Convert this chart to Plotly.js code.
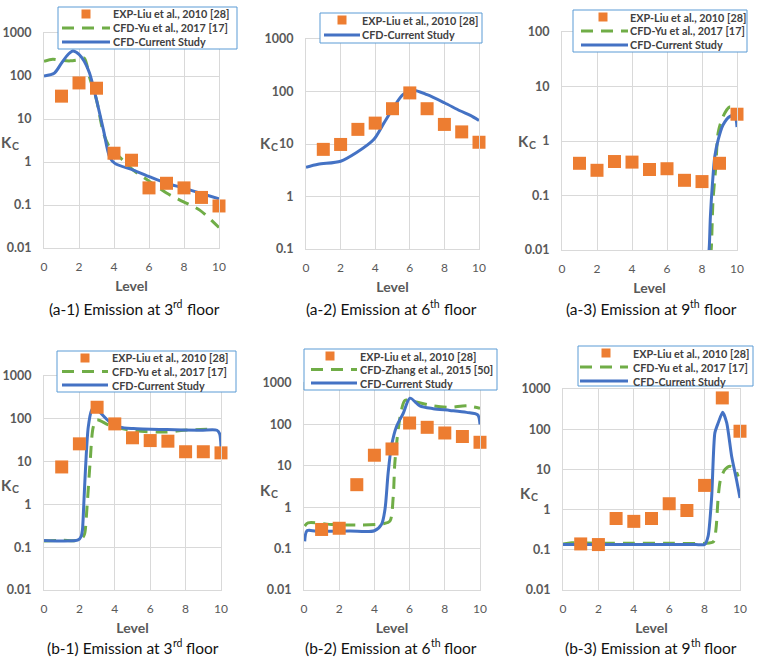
<!DOCTYPE html>
<html><head><meta charset="utf-8">
<script src="https://cdn.plot.ly/plotly-3.0.1.min.js"></script>
<style>html,body{margin:0;padding:0;background:#fff}#chart{width:760px;height:669px}</style>
</head><body><div id="chart"></div><script>
// ---------- DATA ----------
const levels = [1,2,3,4,5,6,7,8,9,10];
const yTickVals = [0.01,0.1,1,10,100,1000];
const yTickText = ['0.01','0.1','1','10','100','1000'];
const xTickVals = [0,2,4,6,8,10];
const xTickText = ['0','2','4','6','8','10'];

const nameExp = 'EXP-Liu et al., 2010 [28]';
const nameYu = 'CFD-Yu et al., 2017 [17]';
const nameZhang = 'CFD-Zhang et al., 2015 [50]';
const nameCur = 'CFD-Current Study';

// (a-1)
const a1Exp = [34,69,52,1.6,1.1,0.25,0.32,0.25,0.15,0.095];
const a1YuX = [0,0.5,1.0,1.5,2.0,2.3,2.6,3.0,3.4,3.75,4.1,5.1,6.05,7.0,7.95,8.9,10];
const a1YuY = [220,245,230,225,240,260,95,28,4.7,2.2,1.6,0.65,0.35,0.19,0.12,0.076,0.03];
const a1CurX = [0,0.6,1.0,1.4,1.65,2.0,2.3,2.6,3.0,3.4,3.75,4.05,5.1,6.05,7.0,7.95,8.9,10];
const a1CurY = [100,118,200,325,380,320,220,118,28,5.5,1.3,0.93,0.65,0.45,0.32,0.25,0.19,0.14];
// (a-2)
const a2Exp = [7.9,9.8,19,25,47,94,47,23.6,17,10.8];
const a2CurX = [0,0.7,2.0,2.9,3.9,4.5,5.1,5.6,6.2,7.0,8.0,8.9,9.5,10];
const a2CurY = [3.6,4.1,4.7,6.8,12,25,52,87,106,87,61,43,35,28];
// (a-3)
const a3Exp = [0.39,0.29,0.42,0.41,0.30,0.31,0.19,0.18,0.39,3.1];
const a3YuX = [8.5,8.54,8.63,8.79,8.92,9.2,9.58,9.77,10];
const a3YuY = [0.008,0.012,0.083,0.34,1.4,2.8,4.2,4.0,3.2];
const a3CurX = [8.38,8.42,8.48,8.6,8.73,8.92,9.2,9.58,9.87,10];
const a3CurY = [0.008,0.012,0.041,0.17,0.52,1.04,1.96,2.8,2.9,1.8];
// (b-1)
const b1Exp = [7.5,26,186,76,36,31,30,17,17,16];
const b1YuX = [0,1.0,1.93,2.2,2.3,2.44,2.6,2.78,2.97,3.72,5.05,6.94,7.88,8.83,9.6];
const b1YuY = [0.14,0.145,0.145,0.17,0.21,1.0,9,64,95,70,53,49,54,56,58];
const b1CurX = [0,0.9,1.93,2.1,2.17,2.25,2.36,2.5,2.68,2.87,3.16,3.72,4.29,5.05,6.94,8.83,9.77,9.92,10];
const b1CurY = [0.143,0.14,0.148,0.18,0.25,1.05,9,64,156,195,143,84,64,59,56,54,54,45,22];
// (b-2)
const b2Exp = [0.29,0.31,3.5,18,25.5,108,85,62,51,37];
const b2ZhX = [0.04,0.23,1.65,3.17,4.5,4.88,5.07,5.16,5.35,5.54,5.73,6.2,7.34,8.29,9.24,10];
const b2ZhY = [0.35,0.42,0.38,0.37,0.40,0.46,1.8,11.6,74,225,380,360,280,260,280,245];
const b2CurX = [0.04,0.17,0.7,2.6,4.0,4.4,4.6,4.78,4.97,5.26,5.64,6.02,6.58,7.34,8.29,9.24,9.87,10];
const b2CurY = [0.15,0.27,0.265,0.265,0.27,0.38,0.88,6.7,30,90,186,430,280,240,218,195,170,100];
// (b-3)
const b3Exp = [0.14,0.135,0.6,0.51,0.6,1.4,0.95,4,600,89];
const b3YuX = [0,0.5,2,4,6,8.0,8.5,8.64,8.77,8.9,9.15,9.43,9.72,9.9];
const b3YuY = [0.14,0.15,0.145,0.145,0.145,0.145,0.16,0.32,2.1,5.6,9.9,12,10,6.7];
const b3CurX = [0,2,4,6,7.5,8.0,8.2,8.4,8.58,8.77,9.02,9.25,9.53,9.8,10];
const b3CurY = [0.135,0.135,0.135,0.135,0.135,0.136,0.22,2.1,81,144,263,144,21,5.6,1.95];

// captions: [main text, superscript, tail]
const captions = [
  ['(a-1) Emission at 3','rd','floor'],['(a-2) Emission at 6','th','floor'],['(a-3) Emission at 9','th','floor'],
  ['(b-1) Emission at 3','rd','floor'],['(b-2) Emission at 6','th','floor'],['(b-3) Emission at 9','th','floor']];

// ---------- STYLE / LAYOUT ----------
const W = 760, H = 669;
const FONT = 'Lato, "Open Sans", "DejaVu Sans", sans-serif';
const ORANGE = '#ed7d31', GREEN = '#70ad47', BLUE = '#4472c4', GRID = '#d9d9d9', TXT = '#595959';
const fx = x => x / W, fy = y => 1 - y / H;

const ctx = document.createElement('canvas').getContext('2d');
function tw(str, size, bold) { ctx.font = (bold ? 'bold ' : '') + size + 'px Lato'; return ctx.measureText(str).width; }

const CAP = 15.5, CAPSUP = 10.5, KSZ = 15, CSZ = 10.5, LEGSZ = 10.8;

const panels = [
  {x0:44, x1:219, y0:33, y1:248, yr:[-2,3], cap:[134,309], kc:[10,142]},
  {x0:306, x1:479, y0:39, y1:249, yr:[-1,3], cap:[391,309], kc:[269,143]},
  {x0:562, x1:737, y0:32, y1:250, yr:[-2,2], cap:[651,309], kc:[527,141]},
  {x0:44, x1:221, y0:376, y1:590, yr:[-2,3], cap:[133,648], kc:[10,485]},
  {x0:304, x1:480, y0:383, y1:590, yr:[-2,3], cap:[391,648], kc:[269,490]},
  {x0:563, x1:740, y0:389, y1:590, yr:[-2,3], cap:[651,648], kc:[529,493]},
];

const series = [
  {exp:a1Exp, lines:[{n:nameYu,x:a1YuX,y:a1YuY,c:GREEN,d:true},{n:nameCur,x:a1CurX,y:a1CurY,c:BLUE}]},
  {exp:a2Exp, lines:[{n:nameCur,x:a2CurX,y:a2CurY,c:BLUE}]},
  {exp:a3Exp, lines:[{n:nameYu,x:a3YuX,y:a3YuY,c:GREEN,d:true},{n:nameCur,x:a3CurX,y:a3CurY,c:BLUE}]},
  {exp:b1Exp, lines:[{n:nameYu,x:b1YuX,y:b1YuY,c:GREEN,d:true},{n:nameCur,x:b1CurX,y:b1CurY,c:BLUE}]},
  {exp:b2Exp, lines:[{n:nameZhang,x:b2ZhX,y:b2ZhY,c:GREEN,d:true},{n:nameCur,x:b2CurX,y:b2CurY,c:BLUE}]},
  {exp:b3Exp, lines:[{n:nameYu,x:b3YuX,y:b3YuY,c:GREEN,d:true},{n:nameCur,x:b3CurX,y:b3CurY,c:BLUE,sm:0.6}]},
];

// legend geometry: box [x0,y0,x1,y1], row y's, symbol x range, text x, square centre x
const legends = [
  {box:[58,7,237,49], rows:[14,28,42], sym:[62,110], tx:113, sq:86},
  {box:[320,13,482,43], rows:[20,35], sym:[324,360], tx:362, sq:342},
  {box:[573,10,747,52], rows:[17,31,45], sym:[581,628], tx:630, sq:603},
  {box:[57,351,236,392], rows:[358,371.5,385], sym:[62,108], tx:112, sq:85},
  {box:[304,349,497,390], rows:[356,369.5,383], sym:[311,357], tx:360, sq:330},
  {box:[578,346,753,386], rows:[353,367,381], sym:[580,628], tx:633, sq:606},
];

const data = [];
const layout = {
  width: W, height: H, margin:{l:0,r:0,t:0,b:0},
  paper_bgcolor:'#fff', plot_bgcolor:'#fff', showlegend:false,
  font:{family:FONT, color:TXT},
  shapes:[], annotations:[]
};

function note(x, y, text, size, color, bold, anchor) {
  layout.annotations.push({xref:'paper', yref:'paper', x:fx(x), y:fy(y),
    xanchor:anchor || 'left', yanchor:'middle', showarrow:false, borderpad:0, borderwidth:0,
    text:text, font:{family:FONT, size:size, color:color, weight:bold ? 'bold' : 'normal'}});
}

panels.forEach((p, i) => {
  const k = i === 0 ? '' : String(i + 1);
  const xa = 'x' + k, ya = 'y' + k;
  const s = series[i];
  s.lines.forEach(l => {
    data.push({type:'scatter', mode:'lines', name:l.n, x:l.x, y:l.y, xaxis:xa, yaxis:ya,
      line:{color:l.c, width:3, dash:l.d ? '12px,8px' : 'solid', shape:'spline', smoothing:l.sm || 0.8}});
  });
  data.push({type:'scatter', mode:'markers', name:nameExp, x:levels, y:s.exp, xaxis:xa, yaxis:ya,
    cliponaxis:false, marker:{symbol:'square', size:13, color:ORANGE, line:{width:0}}});

  layout['xaxis' + k] = {
    domain:[fx(p.x0), fx(p.x1)], anchor:ya, range:[0,10],
    tickvals:xTickVals, ticktext:xTickText, ticks:'', ticklabelstandoff:8,
    showgrid:true, gridcolor:GRID, gridwidth:1, zeroline:false,
    showline:true, mirror:true, linecolor:GRID, linewidth:1,
    tickfont:{family:FONT, size:12, color:TXT},
    title:{text:'Level', standoff:7, font:{family:FONT, size:14, color:TXT, weight:'bold'}},
    fixedrange:true
  };
  layout['yaxis' + k] = {
    domain:[fy(p.y1), fy(p.y0)], anchor:xa, type:'log', range:p.yr,
    tickvals:yTickVals, ticktext:yTickText, ticks:'', ticklabelstandoff:9,
    showgrid:true, gridcolor:GRID, gridwidth:1, zeroline:false,
    showline:true, mirror:true, linecolor:GRID, linewidth:1,
    tickfont:{family:FONT, size:12.5, color:TXT, weight:'bold'},
    fixedrange:true
  };
  // y label K with subscript C
  const wK = tw('K', KSZ, true), wC = tw('C', CSZ, true);
  const kLeft = p.kc[0] - (wK + wC) / 2;
  note(kLeft, p.kc[1], 'K', KSZ, TXT, true);
  note(kLeft + wK, p.kc[1] + 4, 'C', CSZ, TXT, true);
  // caption with superscript
  const c = captions[i];
  const w1 = tw(c[0], CAP), w2 = tw(c[1], CAPSUP), ws = tw(' ', CAP), w3 = tw(c[2], CAP);
  const left = p.cap[0] - (w1 + w2 + ws + w3) / 2;
  note(left, p.cap[1], c[0], CAP, '#111');
  note(left + w1, p.cap[1] - 5, c[1], CAPSUP, '#111');
  note(left + w1 + w2 + ws, p.cap[1], c[2], CAP, '#111');
  // legend
  const L = legends[i];
  layout.shapes.push({type:'rect', xref:'paper', yref:'paper', layer:'above',
    x0:fx(L.box[0]), x1:fx(L.box[2]), y0:fy(L.box[3]), y1:fy(L.box[1]),
    line:{color:'#5b9bd5', width:1}, fillcolor:'#fff'});
  const items = [{n:nameExp, sq:true}].concat(s.lines);
  items.forEach((it, j) => {
    const ry = L.rows[j];
    if (it.sq) {
      layout.shapes.push({type:'rect', xref:'paper', yref:'paper', layer:'above',
        x0:fx(L.sq - 4.5), x1:fx(L.sq + 4.5), y0:fy(ry + 4.5), y1:fy(ry - 4.5),
        line:{width:0}, fillcolor:ORANGE});
    } else {
      layout.shapes.push({type:'line', xref:'paper', yref:'paper', layer:'above',
        x0:fx(L.sym[0]), x1:fx(L.sym[1]), y0:fy(ry), y1:fy(ry),
        line:{color:it.c, width:3, dash:it.d ? '12px,8px' : 'solid'}});
    }
    note(L.tx, ry, it.n, LEGSZ, '#404040', true);
  });
});

Plotly.newPlot('chart', data, layout, {displayModeBar:false, staticPlot:true});
</script></body></html>
